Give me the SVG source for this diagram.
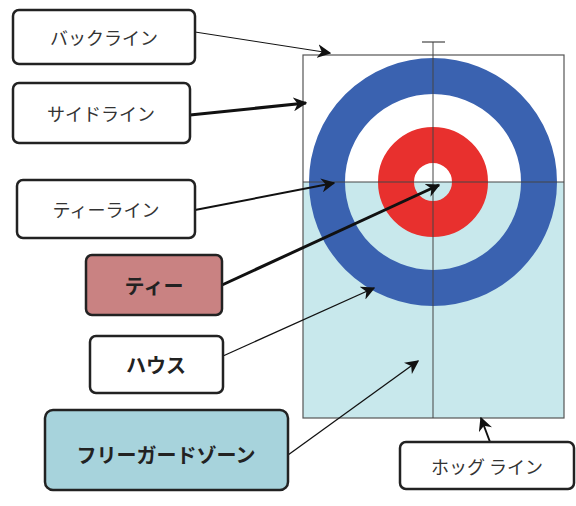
<svg xmlns="http://www.w3.org/2000/svg" width="576" height="506" viewBox="0 0 576 506">
<defs>
<style>
.box{stroke:#222;stroke-width:2.5}
.t{font-family:"Noto Sans CJK JP","Noto Sans",sans-serif;font-size:18px;fill:#333;text-anchor:middle;dominant-baseline:central}
.b{font-weight:bold;font-size:20px;fill:#222}
.c{stroke:#111;fill:none}
</style>
<marker id="ahb" viewBox="0 0 10 10" refX="9" refY="5" markerWidth="14" markerHeight="14" markerUnits="userSpaceOnUse" orient="auto">
<path d="M0,0 L10,5 L0,10 L3,5 z" fill="#111"/>
</marker>
</defs>
<rect width="576" height="506" fill="#fff"/>
<g id="sheet">
<rect x="303" y="55" width="261" height="127" fill="#fff"/>
<rect x="303" y="182" width="261" height="236" fill="#c8e8ec"/>
<circle cx="433" cy="182" r="106" fill="none" stroke="#3a62b0" stroke-width="36"/>
<circle cx="433" cy="182" r="37" fill="none" stroke="#e8302e" stroke-width="36"/>
<rect x="303" y="55" width="261" height="363" fill="none" stroke="#555" stroke-width="1.2"/>
<line x1="303" y1="182" x2="564" y2="182" stroke="#444" stroke-width="1"/>
<line x1="433" y1="42" x2="433" y2="418" stroke="#444" stroke-width="1"/>
<line x1="422" y1="42" x2="445" y2="42" stroke="#444" stroke-width="1.2"/>
</g>
<g id="connectors">
<line class="c" x1="195" y1="32" x2="330" y2="53" stroke-width="1" marker-end="url(#ahb)"/>
<line class="c" x1="190" y1="115" x2="306" y2="103" stroke-width="3" marker-end="url(#ahb)"/>
<line class="c" x1="195" y1="210" x2="334" y2="183" stroke-width="2" marker-end="url(#ahb)"/>
<line class="c" x1="222" y1="285" x2="439" y2="185" stroke-width="3" marker-end="url(#ahb)"/>
<line class="c" x1="223" y1="356" x2="374" y2="288" stroke-width="1.3" marker-end="url(#ahb)"/>
<line class="c" x1="288" y1="455" x2="418" y2="361" stroke-width="1.3" marker-end="url(#ahb)"/>
<line class="c" x1="490" y1="442" x2="481" y2="418" stroke-width="2" marker-end="url(#ahb)"/>
</g>
<g id="n-backline">
<rect class="box" x="13" y="10" width="182" height="54" rx="6" fill="#fff"/>
<text class="t" x="104" y="37">バックライン</text>
</g>
<g id="n-sideline">
<rect class="box" x="13" y="83" width="177" height="60" rx="6" fill="#fff"/>
<text class="t" x="101" y="113">サイドライン</text>
</g>
<g id="n-teeline">
<rect class="box" x="17" y="180" width="178" height="58" rx="6" fill="#fff"/>
<text class="t" x="106" y="209">ティーライン</text>
</g>
<g id="n-tee">
<rect class="box" x="86" y="255" width="136" height="60" rx="6" fill="#c98282"/>
<text class="t b" x="154" y="285">ティー</text>
</g>
<g id="n-house">
<rect class="box" x="90" y="336" width="133" height="57" rx="6" fill="#fff"/>
<text class="t b" x="156" y="364">ハウス</text>
</g>
<g id="n-fgz">
<rect class="box" x="45" y="410" width="243" height="80" rx="8" fill="#a7d3dc"/>
<text class="t b" x="166" y="454">フリーガードゾーン</text>
</g>
<g id="n-hogline">
<rect class="box" x="400" y="442" width="174" height="47" rx="6" fill="#fff"/>
<text class="t" x="487" y="466">ホッグ ライン</text>
</g>
</svg>
